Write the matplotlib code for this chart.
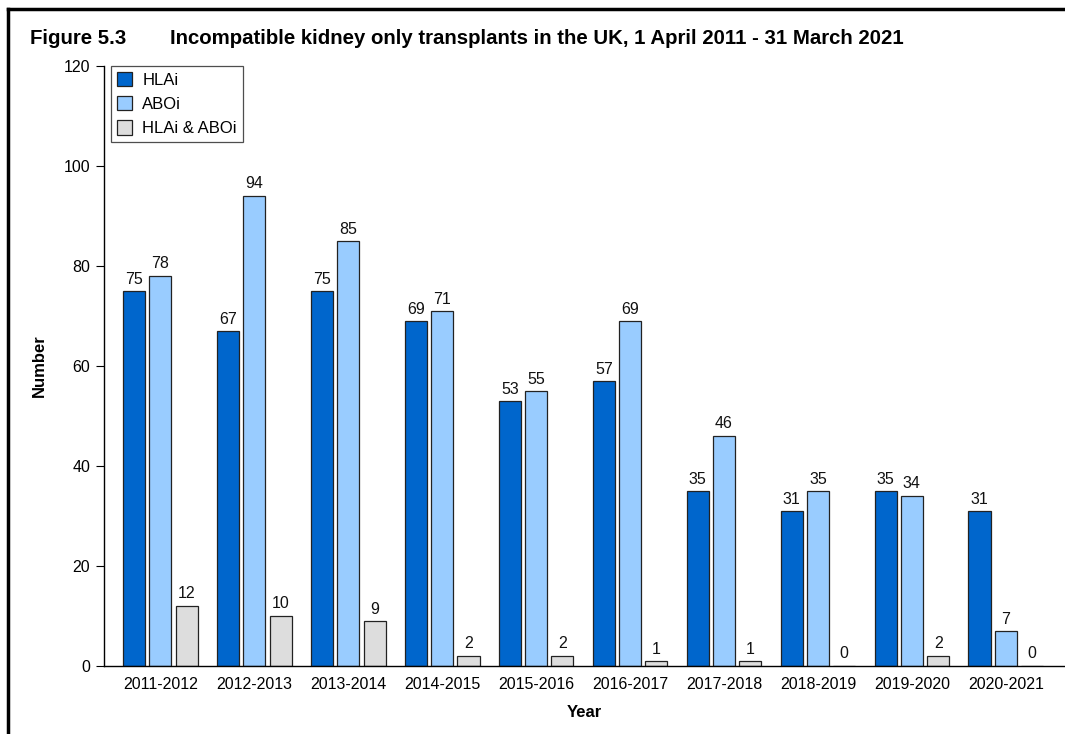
import matplotlib
matplotlib.use("Agg")
import matplotlib.pyplot as plt
import numpy as np
from matplotlib.lines import Line2D

plt.rcParams['font.family'] = ['Liberation Sans', 'DejaVu Sans']

years = ["2011-2012", "2012-2013", "2013-2014", "2014-2015", "2015-2016",
         "2016-2017", "2017-2018", "2018-2019", "2019-2020", "2020-2021"]
hlai = [75, 67, 75, 69, 53, 57, 35, 31, 35, 31]
aboi = [78, 94, 85, 71, 55, 69, 46, 35, 34, 7]
both = [12, 10, 9, 2, 2, 1, 1, 0, 2, 0]
series_names = ["HLAi", "ABOi", "HLAi & ABOi"]
colors = ["#0066CC", "#99CCFF", "#DDDDDD"]

fig = plt.figure(figsize=(10.65, 7.34), dpi=100)
ax = fig.add_axes([104/1065, 1-666/734, 1-104/1065, 600/734])

x = np.arange(len(years))
w = 0.235
offs = [-0.28, 0.0, 0.28]
for vals, off, c, name in zip([hlai, aboi, both], offs, colors, series_names):
    ax.bar(x + off, vals, width=w, color=c, edgecolor="#222222", linewidth=0.9, label=name)
    for xi, v in zip(x + off, vals):
        ax.text(xi, v + 0.9, str(v), ha="center", va="bottom", fontsize=11.5, color="#111111")

ax.set_xlim(-0.6, 9.63)
ax.set_ylim(0, 120)
ax.set_yticks(range(0, 121, 20))
ax.set_xticks(x)
ax.set_xticklabels(years)
for s in ["top", "right"]:
    ax.spines[s].set_visible(False)
ax.spines["left"].set_linewidth(1.0)
ax.spines["bottom"].set_linewidth(1.0)
ax.tick_params(axis="y", direction="out", length=6, labelsize=11.5, pad=4)
ax.tick_params(axis="x", length=0, labelsize=11.5, pad=8)
ax.set_ylabel("Number", fontsize=12, fontweight="bold", labelpad=12)
ax.set_xlabel("Year", fontsize=12, fontweight="bold", labelpad=9)

leg = ax.legend(loc="upper left", bbox_to_anchor=(0.007, 1.0), frameon=True, fancybox=False,
                edgecolor="#222222", fontsize=12, handlelength=0.95, handleheight=0.95,
                handletextpad=0.6, borderpad=0.35, labelspacing=0.5, borderaxespad=0)
leg.get_frame().set_linewidth(0.9)

fig.text(30/1065, 1-38/734, "Figure 5.3", fontsize=14.7, fontweight="bold", va="center", ha="left")
fig.text(170/1065, 1-38/734, "Incompatible kidney only transplants in the UK, 1 April 2011 - 31 March 2021",
         fontsize=14.7, fontweight="bold", va="center", ha="left")

# border lines (top and left)
fig.add_artist(Line2D([8/1065, 1.0], [1-9/734, 1-9/734], color="black", linewidth=2.5, transform=fig.transFigure))
fig.add_artist(Line2D([8/1065, 8/1065], [0, 1-9/734], color="black", linewidth=2.5, transform=fig.transFigure))

fig.savefig("out.png", dpi=100)
